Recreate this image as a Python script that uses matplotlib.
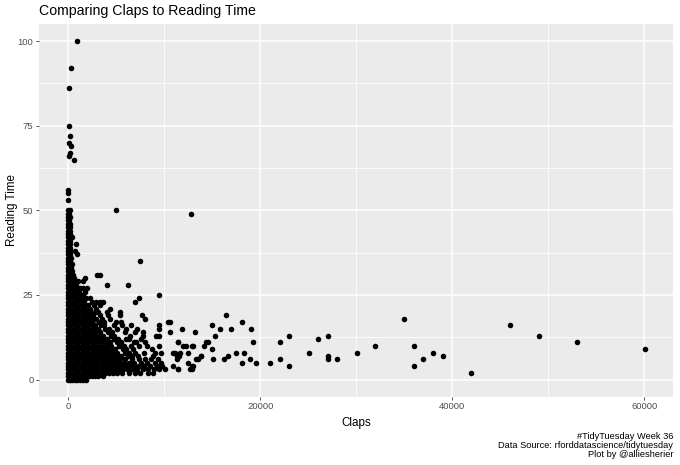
import matplotlib.pyplot as plt
from matplotlib.ticker import MultipleLocator

plt.rcParams['font.family'] = ['Liberation Sans', 'DejaVu Sans']

# claps for the dense mass near the origin, one list per reading time (index = minutes)
cluster_claps = [
    [0, 200, 450, 700, 950, 1250, 1550, 1850],
    [0, 300, 600, 900, 1200, 1500, 1850, 2150, 2500, 2800, 3150, 3600],
    [0, 350, 700, 1050, 1400, 1750, 2100, 2450, 2800, 3150, 3500, 3850, 4250, 4650, 5100, 5650, 6300, 6950, 7500, 8300, 8850],
    [0, 350, 700, 1050, 1400, 1750, 2100, 2450, 2800, 3150, 3500, 3850, 4200, 4550, 4900, 5300, 5700, 6100, 6600, 7150, 7800, 8350, 8900, 9500, 10100],
    [0, 350, 700, 1050, 1400, 1750, 2100, 2450, 2800, 3150, 3500, 3850, 4200, 4550, 4900, 5250, 5650, 6050, 6500, 7000, 7400, 7950, 8500, 9300, 9800],
    [0, 350, 700, 1050, 1400, 1750, 2100, 2450, 2800, 3150, 3500, 3850, 4200, 4600, 5000, 5400, 5800, 6300, 6900, 7600, 8200, 9000, 9650],
    [0, 350, 700, 1050, 1400, 1750, 2100, 2450, 2800, 3150, 3500, 3850, 4250, 4650, 5050, 5450, 5900, 6700, 7400, 8000, 8600, 9400],
    [0, 350, 700, 1050, 1400, 1750, 2100, 2450, 2800, 3150, 3500, 3900, 4300, 4700, 5100, 5500, 6250, 6600, 7300, 8800],
    [0, 350, 700, 1050, 1400, 1750, 2100, 2450, 2800, 3150, 3500, 3900, 4300, 4700, 5100, 5950, 6300, 7000, 7900, 9000, 9700],
    [0, 350, 700, 1050, 1400, 1750, 2100, 2450, 2800, 3200, 3600, 4000, 4400, 4850, 5700, 6000, 6800, 8700],
    [0, 350, 700, 1050, 1400, 1750, 2100, 2450, 2800, 3200, 3600, 4000, 4500, 5300, 5800, 6500, 7400, 8200, 9500],
    [0, 350, 700, 1050, 1400, 1750, 2100, 2450, 2800, 3200, 3600, 4000, 4350, 5100, 5500, 6900, 7100, 8000],
    [0, 350, 700, 1050, 1400, 1750, 2100, 2450, 2800, 3200, 3600, 4000, 4800, 5200, 6000, 6300, 7600],
    [0, 350, 700, 1050, 1400, 1750, 2100, 2450, 2800, 3200, 3650, 4500, 4800, 6400, 7800, 9200, 9500],
    [0, 350, 700, 1050, 1400, 1750, 2100, 2450, 2800, 3300, 4200, 4600, 5900, 6960, 7820],
    [0, 350, 700, 1050, 1400, 1750, 2100, 2450, 2800, 3150, 3800, 4300, 5100, 6000, 7130, 9450],
    [0, 350, 700, 1050, 1400, 1750, 2100, 2450, 2850, 3400, 3700, 4800, 5600, 6500, 9420],
    [0, 350, 700, 1050, 1400, 1750, 2100, 2500, 3200, 3700, 5000, 5500],
    [0, 350, 700, 1050, 1400, 1750, 2100, 2400, 2950, 3500, 4400, 8030],
    [0, 350, 700, 1050, 1400, 1750, 2100, 2600, 3300, 4200, 5450, 7680],
    [0, 350, 700, 1050, 1400, 1750, 2000, 2300, 2800, 3100, 4000, 5400],
    [0, 350, 700, 1050, 1400, 1750, 2300, 2900, 4360],
    [0, 350, 700, 1050, 1400, 1650, 2100, 2700, 3300],
    [0, 350, 700, 1000, 1350, 1700, 2500, 2900, 3300, 3650, 6960],
    [0, 350, 700, 1050, 1300, 1900, 2300, 7370],
    [0, 300, 650, 1000, 1300, 1600, 9450],
    [0, 300, 600, 900, 1150, 1800],
    [0, 300, 600, 900, 1250, 1600, 2000],
    [0, 250, 500, 800, 4010, 6270],
    [0, 250, 500, 700, 1070, 1520],
    [0, 250, 450, 650, 1770],
    [0, 250, 500, 2980, 3320],
    [0, 200, 450],
    [0, 200, 350],
    [0, 150, 400],
    [0, 200, 7510],
    [0, 150, 300],
    [0, 200, 930],
    [0, 150, 730],
    [0, 200],
    [0, 150, 860],
    [0, 200],
    [0, 150, 380],
    [0, 200],
    [0, 150],
    [0, 200],
    [0, 150],
    [0, 100],
    [0, 150],
    [0, 100],
    [0, 150, 5020],
    [],
    [],
    [0],
    [],
    [0],
    [0],
]

# long reads with few claps
upper_claps = [590, 70, 240, 310, 70, 170, 70, 70, 310, 935]
upper_time = [65, 66, 67, 69, 70, 72, 75, 86, 92, 100]

# the scattered posts with many claps
spread_claps = [10590, 10590, 11840, 13160, 16410, 15030, 15780, 16960, 18100, 19040,
                15260, 19210, 22010, 22980, 22010, 22980, 21050, 19590, 18900, 18140,
                18350, 17520, 16610, 16270, 15090, 15030, 13840, 13290, 14190, 14400,
                14610, 13010, 12460, 12460, 11490, 11980, 12250, 10870, 11140, 11630,
                11290, 11560, 11350, 10870, 11490, 12670, 12880, 13010, 10420, 11450,
                12950, 13880, 13530, 12900, 11450, 12840, 25030, 26030, 27030, 27030,
                27030, 28040, 30040, 31980, 35000, 36000, 36000, 37000, 38000, 39010,
                41950, 45970, 49010, 52960, 60020]
spread_time = [17, 14, 15, 14, 19, 16, 15, 15, 17, 15,
               13, 11, 11, 13, 6, 4, 5, 5, 6, 5,
               8, 8, 7, 6, 6, 9, 7, 6, 10, 11,
               11, 10, 8, 5, 11, 10, 10, 8, 8, 8,
               7, 7, 6, 4, 3, 3, 3, 4, 17, 11,
               10, 7, 6, 4, 3, 49, 8, 12, 13, 7,
               6, 6, 8, 10, 18, 10, 4, 6, 8, 7,
               2, 16, 13, 11, 9]

claps = []
reading_time = []
for minutes, row in enumerate(cluster_claps):
    for c in row:
        claps.append(c)
        reading_time.append(minutes)
claps += upper_claps + spread_claps
reading_time += upper_time + spread_time

fig = plt.figure(figsize=(6.8, 4.65), dpi=100)
ax = fig.add_axes([0.0578, 0.1473, 0.9322, 0.8007])
ax.set_facecolor('#EBEBEB')
ax.scatter(claps, reading_time, s=16, c='black', linewidths=0, zorder=3)

ax.set_xlim(-3000, 63000)
ax.set_ylim(-5, 105)
ax.xaxis.set_major_locator(MultipleLocator(20000))
ax.xaxis.set_minor_locator(MultipleLocator(10000))
ax.yaxis.set_major_locator(MultipleLocator(25))
ax.yaxis.set_minor_locator(MultipleLocator(12.5))
ax.grid(which='major', color='white', linewidth=1.1, zorder=1)
ax.grid(which='minor', color='white', linewidth=0.55, zorder=1)
ax.set_axisbelow(True)
for s in ax.spines.values():
    s.set_visible(False)
ax.tick_params(which='major', length=2.2, width=0.6, color='#333333',
               labelcolor='#4D4D4D', labelsize=6.8, pad=2)
ax.tick_params(which='minor', length=0)

ax.set_xlabel('Claps', fontsize=8.4, labelpad=4)
ax.set_ylabel('Reading Time', fontsize=8.4)
ax.yaxis.set_label_coords(-0.033, 0.5)
fig.text(0.0578, 0.976, 'Comparing Claps to Reading Time', fontsize=10.2,
         ha='left', va='center')
fig.text(0.990, 0.042, '#TidyTuesday Week 36\nData Source: rforddatascience/tidytuesday\nPlot by @alliesherier',
         fontsize=6.7, ha='right', va='center', linespacing=0.95)

fig.savefig('out.png', dpi=100)
